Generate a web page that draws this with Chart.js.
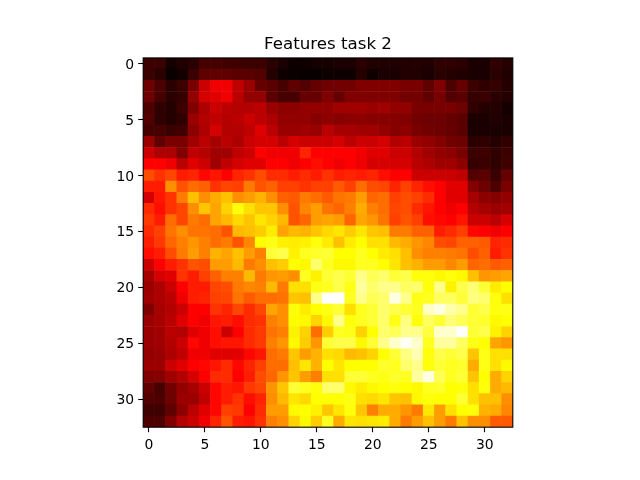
<!DOCTYPE html>
<html><head><meta charset="utf-8">
<style>html,body{margin:0;padding:0;background:#fff}canvas{display:block}</style>
<script src="https://cdn.jsdelivr.net/npm/chart.js@4"></script></head>
<body><canvas id="c" width="640" height="480"></canvas>
<script>
const chartTitle = "Features task 2";
const tickValues = [0,5,10,15,20,25,30];
const rows = [
[11,11,4,6,8,13,13,12,12,11,11,8,5,3,3,4,4,5,5,8,6,6,6,6,7,6,9,9,8,5,5,9,7],
[11,8,2,4,11,17,17,17,16,16,15,7,3,2,1,1,3,3,3,7,3,5,5,6,6,5,8,7,6,5,5,8,6],
[19,14,8,11,21,33,36,36,32,26,18,16,13,17,15,18,19,20,20,22,22,22,22,21,21,17,22,14,18,11,9,10,7],
[19,13,8,10,25,34,35,36,31,25,25,16,13,13,18,18,22,18,22,22,22,22,22,20,20,17,21,15,16,10,11,8,7],
[14,9,7,11,22,29,33,31,30,30,31,26,24,24,25,25,25,27,27,27,26,27,25,25,21,21,21,21,19,9,7,7,4],
[15,9,7,9,26,30,32,30,31,33,31,29,25,25,25,23,24,23,24,24,23,23,23,22,20,19,19,18,16,5,5,6,5],
[13,13,11,12,24,29,34,30,30,32,35,31,26,26,27,26,31,28,28,27,27,25,23,24,21,20,19,18,16,5,5,5,5],
[26,17,21,21,27,31,28,31,29,33,34,34,31,34,33,33,33,34,31,33,33,34,30,31,26,25,23,20,19,8,9,7,9],
[33,29,29,22,32,30,27,27,32,33,37,36,36,36,42,37,37,37,37,36,35,35,33,33,30,27,25,24,21,11,12,9,11],
[37,37,36,31,35,33,27,32,34,35,35,37,37,36,37,39,37,36,37,36,34,34,34,34,31,29,27,27,24,10,11,9,12],
[48,44,47,41,42,38,40,37,42,44,48,43,43,41,43,41,44,41,42,41,42,39,37,37,33,33,33,33,32,15,16,11,18],
[41,41,58,49,53,51,44,47,46,55,49,51,46,46,44,46,46,50,46,53,48,47,42,46,42,39,37,35,35,23,19,14,21],
[34,40,44,55,65,58,62,65,58,60,63,58,51,50,55,53,50,54,55,60,52,53,46,48,46,43,37,35,35,28,24,23,25],
[43,39,44,47,58,66,61,68,76,70,66,66,58,49,57,60,54,52,56,62,56,53,47,48,43,40,37,36,37,30,28,26,27],
[45,41,53,47,55,53,61,64,69,66,71,68,64,49,52,60,61,60,52,61,59,54,46,49,46,39,38,37,40,33,33,31,34],
[43,46,54,58,54,54,53,49,64,65,67,72,61,64,63,66,69,71,67,71,66,65,55,55,51,51,41,43,46,38,37,36,37],
[41,45,52,56,59,56,53,55,49,57,75,77,73,72,73,76,72,65,72,75,70,70,64,62,59,57,48,47,51,51,50,42,43],
[39,41,48,55,60,56,63,61,65,60,56,80,82,73,78,79,80,75,75,78,75,72,70,65,58,56,56,55,54,48,51,41,44],
[33,37,41,44,49,48,60,60,64,55,58,65,67,75,74,85,78,74,74,78,78,75,71,65,63,60,60,57,60,52,53,50,51],
[28,34,35,44,41,46,51,56,56,64,55,59,60,58,78,73,80,82,80,88,83,85,80,82,76,76,74,76,74,65,59,60,61],
[26,29,33,37,41,41,47,48,55,57,56,64,55,70,70,77,78,82,77,90,85,88,88,84,85,76,88,73,82,86,80,72,75],
[27,29,31,36,41,42,46,47,54,50,53,53,54,66,65,88,100,100,78,88,83,85,97,88,77,78,84,84,80,87,85,76,70],
[22,28,30,33,37,37,44,42,47,43,47,61,58,76,72,75,77,80,70,78,80,85,82,80,78,94,97,91,88,80,82,76,77],
[26,28,31,35,37,36,40,41,39,43,44,56,58,75,74,68,74,88,76,78,80,85,77,87,76,84,80,86,83,80,79,74,75],
[26,27,31,30,35,36,39,33,37,43,45,54,56,73,68,53,67,78,77,68,75,85,83,88,88,81,95,95,100,80,82,73,68],
[26,27,30,33,38,36,39,40,40,43,45,56,59,74,67,59,80,82,82,74,80,88,95,99,95,78,90,90,84,77,75,61,59],
[25,26,29,32,36,36,35,35,35,38,40,53,55,66,60,63,70,69,64,65,68,75,80,87,92,76,82,80,82,66,77,70,70],
[26,26,33,35,37,38,40,43,38,42,46,53,53,65,71,63,75,71,75,75,75,79,78,85,88,76,80,78,79,62,77,70,74],
[22,23,27,30,34,37,43,43,37,41,48,52,59,66,60,56,70,70,80,80,78,77,79,78,90,97,83,78,80,66,75,62,68],
[17,13,20,25,28,33,38,41,40,45,47,59,66,80,78,76,85,85,74,72,74,75,76,75,74,78,79,75,76,70,76,62,64],
[15,14,19,26,26,32,38,41,44,39,42,58,64,71,69,75,75,75,77,70,69,71,66,65,74,76,75,75,80,70,65,65,58],
[12,12,17,24,31,35,38,46,45,37,43,60,60,74,75,73,66,71,76,66,56,62,62,59,55,71,60,70,75,76,63,62,57],
[14,14,22,30,33,36,42,49,41,40,44,56,58,68,74,67,78,62,71,70,71,72,62,55,60,65,60,55,65,58,58,50,50]
];
const colorStops = [[0,5,0,0],[2,10,0,0],[12,64,0,0],[17,96,0,0],[22,128,0,0],[27,160,0,0],[32,192,0,0],[35,224,0,0],[37,255,0,0],[46,255,64,0],[56,255,128,0],[65,255,192,0],[75,255,255,0],[87,255,255,128],[100,255,255,255]];
function colorOf(v){
  for(let i=1;i<colorStops.length;i++){
    const a=colorStops[i-1],b=colorStops[i];
    if(v<=b[0]){const t=(v-a[0])/(b[0]-a[0]);
      return `rgb(${Math.round(a[1]+t*(b[1]-a[1]))},${Math.round(a[2]+t*(b[2]-a[2]))},${Math.round(a[3]+t*(b[3]-a[3]))})`;}
  }
  return '#fff';
}
const points=[];
rows.forEach((r,y)=>r.forEach((v,x)=>points.push({x,y,v})));
const fnt={family:'"DejaVu Sans"',size:13.9};
const axis=(extra,pad)=>Object.assign({
  type:'linear',min:-0.5,max:32.5,
  afterBuildTicks:s=>{s.ticks=tickValues.map(value=>({value}));},
  grid:{drawOnChartArea:false,drawTicks:true,tickLength:5,tickWidth:1.1,tickColor:'#000'},
  border:{display:false},
  ticks:{color:'#000',font:fnt,autoSkip:false,maxRotation:0,minRotation:0,padding:pad,callback:v=>String(v)}
},extra);
function nudgeLabels(s){
  if(s._nudged) return; s._nudged=true;
  const draw=s.drawLabels.bind(s);
  s.drawLabels=function(area){const c=s.ctx;c.save();c.translate(0,1.5);draw(area);c.restore();};
}
const frame={id:'frame',afterDatasetsDraw(ch){const a=ch.chartArea,c=ch.ctx;c.save();c.strokeStyle='#000';c.lineWidth=1.1;c.strokeRect(a.left,a.top,a.width,a.height);c.restore();}};
new Chart(document.getElementById('c'),{
  type:'scatter',
  data:{datasets:[{data:points,pointStyle:'rect',borderWidth:0,
    pointBorderWidth:0,
    pointBackgroundColor:c=>colorOf(c.raw?c.raw.v:0),
    pointRadius:c=>{const a=c.chart.chartArea;return ((a?a.width:370)/33/2+0.3)/Math.SQRT1_2;}}]},
  options:{responsive:false,animation:false,events:[],
    layout:{padding:{left:0,right:127.2,top:0,bottom:0}},
    plugins:{legend:{display:false},tooltip:{enabled:false},
      title:{display:true,text:chartTitle,color:'#000',fullSize:false,font:{family:'"DejaVu Sans"',size:16.67,weight:'normal'},padding:{top:35,bottom:2.9}}},
    scales:{
      x:axis({afterFit:s=>{s.height=52.8;}},5),
      y:axis({reverse:true,afterFit:s=>{s.width=143.2;nudgeLabels(s);}},4)
    }
  },
  plugins:[frame]
});
</script></body></html>
